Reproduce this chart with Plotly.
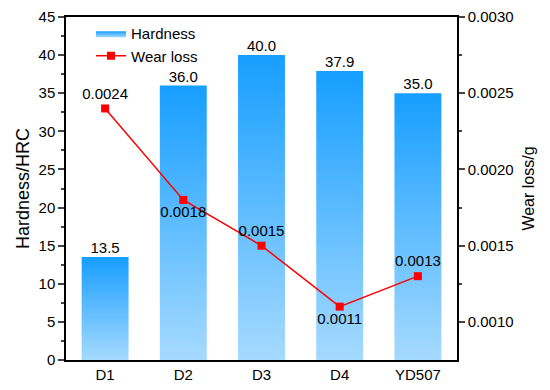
import plotly.graph_objects as go

categories = ["D1", "D2", "D3", "D4", "YD507"]
hardness = [13.5, 36.0, 40.0, 37.9, 35.0]
wear_loss = [0.0024, 0.0018, 0.0015, 0.0011, 0.0013]
wear_label_pos = ["top center", "bottom center", "top center", "bottom center", "top center"]

FONT = "Arial, Liberation Sans, sans-serif"
BAR_W = 0.6
TOP_C = "rgb(22,158,255)"
BOT_C = "rgb(166,218,255)"

fig = go.Figure()
xs = list(range(len(categories)))
for i, h in enumerate(hardness):
    x0, x1 = xs[i] - BAR_W / 2, xs[i] + BAR_W / 2
    fig.add_trace(go.Scatter(
        x=[x0, x0, x1, x1, x0], y=[0, h, h, 0, 0],
        mode="lines", fill="toself", line=dict(width=0, color=TOP_C),
        fillgradient=dict(type="vertical", colorscale=[[0, BOT_C], [1, TOP_C]], start=0, stop=h),
        name="Hardness", showlegend=(i == 0), legendgroup="h", hoverinfo="skip",
    ))

fig.add_trace(go.Scatter(
    x=xs, y=hardness, mode="text", text=[f"{v:.1f}" for v in hardness],
    textposition="top center", textfont=dict(size=15, color="black", family=FONT),
    showlegend=False,
))

fig.add_trace(go.Scatter(
    x=xs, y=wear_loss, yaxis="y2", mode="lines+markers+text",
    line=dict(color="#ff0000", width=1.5),
    marker=dict(symbol="square", size=8, color="#ff0000"),
    text=[f"{v:.4f}" for v in wear_loss], textposition=wear_label_pos,
    textfont=dict(size=15, color="black", family=FONT),
    name="Wear loss",
))

fig.update_layout(
    width=542, height=385,
    margin=dict(l=58, r=93, t=9, b=33, autoexpand=False),
    plot_bgcolor="white", paper_bgcolor="white",
    font=dict(family=FONT, size=15, color="black"),
    xaxis=dict(
        range=[-0.5, len(categories) - 0.5], tickvals=xs, ticktext=categories,
        showline=True, linecolor="black", linewidth=1.5, mirror=True, automargin=False,
        ticks="", showgrid=False, zeroline=False, tickfont=dict(size=15),
    ),
    yaxis=dict(
        range=[0, 45], dtick=5, ticks="outside", ticklen=6, tickwidth=1.5,
        showline=True, linecolor="black", linewidth=1.5, showgrid=False, zeroline=False,
        minor=dict(dtick=2.5, ticks="outside", ticklen=3, tickwidth=1.5),
        title=dict(text="Hardness/HRC", font=dict(size=18), standoff=4),
        tickfont=dict(size=15), ticklabeloverflow="allow", automargin=False,
    ),
    yaxis2=dict(
        overlaying="y", side="right", range=[0.00075, 0.0030],
        tickvals=[0.0010, 0.0015, 0.0020, 0.0025, 0.0030], tickformat=".4f",
        ticks="outside", ticklen=6, tickwidth=1.5,
        showline=True, linecolor="black", linewidth=1.5, showgrid=False, zeroline=False,
        minor=dict(tickvals=[0.00125, 0.00175, 0.00225, 0.00275], ticks="outside", ticklen=3, tickwidth=1.5),
        title=dict(text="Wear loss/g", font=dict(size=16), standoff=10),
        tickfont=dict(size=15), ticklabeloverflow="allow", automargin=False,
    ),
    legend=dict(x=0.064, y=1.0, xanchor="left", yanchor="top", bgcolor="rgba(0,0,0,0)",
                font=dict(size=15), tracegroupgap=0),
    showlegend=True,
)

fig.write_html("out.html")
